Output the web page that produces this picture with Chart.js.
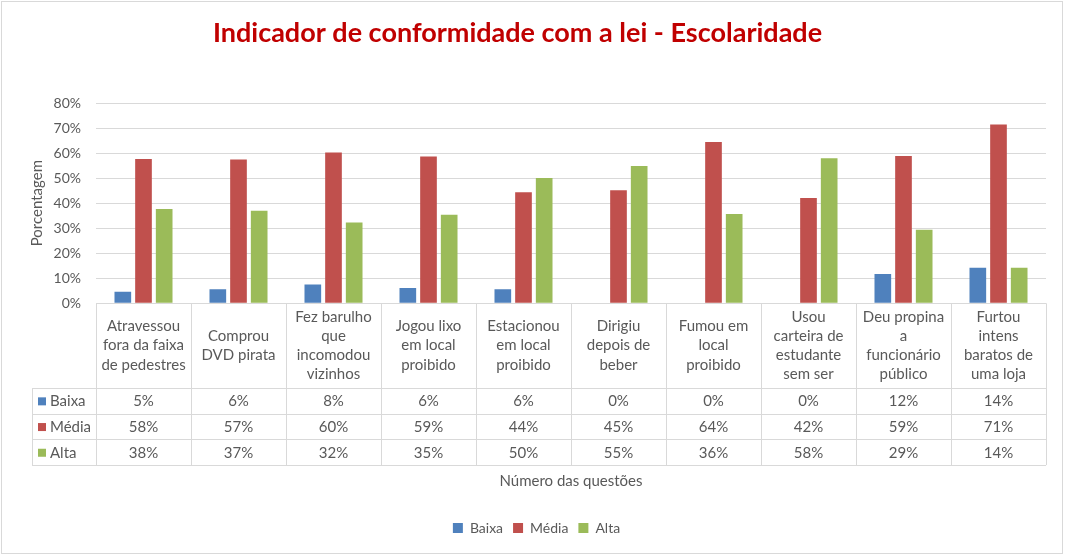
<!DOCTYPE html>
<html>
<head>
<meta charset="utf-8">
<script src="https://cdn.jsdelivr.net/npm/chart.js@4.4.1/dist/chart.umd.min.js"></script>
<style>
html,body{margin:0;padding:0;background:#fff;}
#wrap{width:1067px;height:555px;}
</style>
</head>
<body>
<div id="wrap"><canvas id="c" width="1067" height="555"></canvas></div>
<script>
const chartTitle = "Indicador de conformidade com a lei - Escolaridade";
const categories = [
  ["Atravessou", "fora da faixa", "de pedestres"],
  ["Comprou", "DVD pirata"],
  ["Fez barulho", "que", "incomodou", "vizinhos"],
  ["Jogou lixo", "em local", "proibido"],
  ["Estacionou", "em local", "proibido"],
  ["Dirigiu", "depois de", "beber"],
  ["Fumou em", "local", "proibido"],
  ["Usou", "carteira de", "estudante", "sem ser"],
  ["Deu propina", "a", "funcionário", "público"],
  ["Furtou", "intens", "baratos de", "uma loja"]
];
const seriesNames = ["Baixa", "Média", "Alta"];
const baixa = [4.6, 5.6, 7.5, 6.1, 5.6, 0, 0, 0, 11.7, 14.2];
const media = [57.6, 57.4, 60.2, 58.6, 44.4, 45.2, 64.4, 42.1, 58.8, 71.4];
const alta  = [37.7, 37.0, 32.3, 35.4, 50.0, 54.8, 35.7, 57.9, 29.4, 14.2];
const yTicks = [0, 10, 20, 30, 40, 50, 60, 70, 80];
const colors = ["#4F81BD", "#C0504D", "#9BBB59"];

const FONT = "Lato, 'Open Sans', sans-serif";
const TXT = "#595959";
const GRID = "#D9D9D9";

const framePlugin = {
  id: 'frame',
  beforeDraw(chart) {
    const ctx = chart.ctx;
    ctx.save();
    ctx.fillStyle = '#fff';
    ctx.fillRect(0, 0, chart.width, chart.height);
    ctx.strokeStyle = GRID;
    ctx.lineWidth = 1;
    ctx.strokeRect(1.5, 1.5, 1061, 552);
    ctx.fillStyle = '#C00000';
    ctx.font = "bold 27px " + FONT;
    ctx.textAlign = 'center';
    ctx.textBaseline = 'middle';
    ctx.fillText(chartTitle, 517.5, 33);
    ctx.restore();
  },
  afterDraw(chart) {
    const ctx = chart.ctx;
    const xs = chart.scales.x;
    const area = chart.chartArea;
    const n = categories.length;
    const step = xs.getPixelForValue(1) - xs.getPixelForValue(0);
    const tableLeft = 32;
    const top = area.bottom;
    const headBottom = 388;
    const rowH = 25.7;
    const rowsY = [headBottom, headBottom + rowH, headBottom + 2 * rowH, headBottom + 3 * rowH];
    const bottom = rowsY[3];
    const left0 = xs.getPixelForValue(0) - step / 2;
    const right = xs.getPixelForValue(n - 1) + step / 2;
    ctx.save();
    ctx.strokeStyle = GRID;
    ctx.lineWidth = 1;
    ctx.beginPath();
    ctx.moveTo(left0, Math.round(top) + 0.5);
    ctx.lineTo(right, Math.round(top) + 0.5);
    rowsY.forEach(y => { ctx.moveTo(tableLeft, Math.round(y) + 0.5); ctx.lineTo(right, Math.round(y) + 0.5); });
    ctx.moveTo(tableLeft + 0.5, headBottom); ctx.lineTo(tableLeft + 0.5, bottom);
    for (let i = 0; i <= n; i++) {
      const x = Math.round(left0 + i * step) + 0.5;
      ctx.moveTo(x, top); ctx.lineTo(x, bottom);
    }
    ctx.stroke();

    ctx.fillStyle = TXT;
    ctx.font = "15px " + FONT;
    ctx.textAlign = 'center';
    ctx.textBaseline = 'middle';
    const lh = 19.3;
    const headMid = (top + headBottom) / 2;
    categories.forEach((lines, i) => {
      const cx = xs.getPixelForValue(i);
      const y0 = headMid - (lines.length - 1) * lh / 2;
      lines.forEach((t, k) => ctx.fillText(t, cx, y0 + k * lh));
    });
    const data = [baixa, media, alta];
    data.forEach((arr, r) => {
      const cy = rowsY[r] + rowH / 2 + 0.5;
      arr.forEach((v, i) => {
        ctx.fillText(Math.round(v) + "%", xs.getPixelForValue(i), cy);
      });
      ctx.fillStyle = colors[r];
      ctx.fillRect(38, cy - 4, 8, 8);
      ctx.fillStyle = TXT;
      ctx.textAlign = 'left';
      ctx.fillText(seriesNames[r], 50, cy);
      ctx.textAlign = 'center';
    });
    ctx.restore();
  }
};

new Chart(document.getElementById('c'), {
  type: 'bar',
  data: {
    labels: categories,
    datasets: [
      { label: seriesNames[0], data: baixa, backgroundColor: colors[0] },
      { label: seriesNames[1], data: media, backgroundColor: colors[1] },
      { label: seriesNames[2], data: alta, backgroundColor: colors[2] }
    ]
  },
  options: {
    responsive: false,
    animation: false,
    layout: { padding: { left: 27, right: 21, top: 103, bottom: 10 } },
    datasets: { bar: { categoryPercentage: 0.653, barPercentage: 0.806 } },
    plugins: {
      title: { display: false },
      tooltip: { enabled: false },
      legend: {
        position: 'bottom',
        labels: {
          boxWidth: 10, boxHeight: 10, padding: 10,
          color: TXT,
          font: { family: FONT, size: 14 }
        }
      }
    },
    scales: {
      x: {
        grid: { display: false },
        border: { display: false },
        ticks: { display: false },
        title: {
          display: true, text: "Número das questões", color: TXT,
          font: { family: FONT, size: 15 },
          padding: { top: 0, bottom: 21.3 }
        },
        afterFit(s) { s.height = 207.7; }
      },
      y: {
        min: 0, max: 80,
        afterBuildTicks(s) { s.ticks = yTicks.map(v => ({ value: v })); },
        grid: { color: GRID, drawTicks: false },
        border: { display: false },
        ticks: {
          padding: 15, color: TXT,
          font: { family: FONT, size: 14 },
          callback: v => v + "%"
        },
        title: {
          display: true, text: "Porcentagem", color: TXT,
          font: { family: FONT, size: 15 },
          padding: { top: 1, bottom: 0 }
        },
        afterFit(s) { s.width = 69; }
      }
    }
  },
  plugins: [framePlugin]
});
</script>
</body>
</html>
